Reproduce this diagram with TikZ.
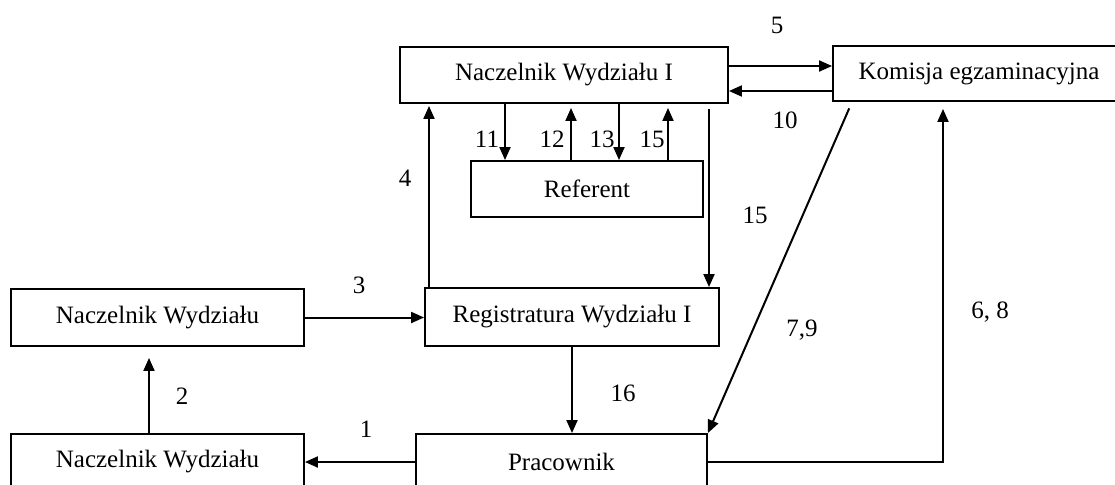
\documentclass[tikz,border=0pt]{standalone}
\usepackage{fontspec}
\setmainfont{Liberation Serif}
\usetikzlibrary{arrows.meta}
\begin{document}
\begin{tikzpicture}[x=1pt,y=-1pt,
  box/.style={draw,line width=1.9pt,minimum height=56pt,inner sep=0pt,
    font=\fontsize{25}{30}\selectfont},
  arr/.style={line width=2pt,-{Triangle[length=13pt,width=11pt]}},
  lbl/.style={inner sep=0pt,font=\fontsize{25}{30}\selectfont}]
\useasboundingbox (0,0) rectangle (1115,484);
\clip (0,0) rectangle (1115,484);

% boxes
\node[box,minimum width=328pt] (nwI) at (564,75) {Naczelnik Wydziału I};
\node[box,minimum width=292pt,minimum height=55pt] (kom) at (979,73.5) {Komisja egzaminacyjna};
\node[box,minimum width=232pt] (ref) at (587,189) {Referent};
\node[box,minimum width=293pt,minimum height=57pt] (nwA) at (157.5,317.5) {Naczelnik Wydziału};
\node[box,minimum width=294pt,minimum height=58pt] (reg) at (572,317) {Registratura Wydziału I};
\node[box,minimum width=293pt] (nwB) at (157.5,462) {Naczelnik Wydziału};
\node[box,minimum width=291pt] (prac) at (561.5,462) {Pracownik};

% connectors
\draw[arr] (nwI.east |- 0,66) -- (kom.west |- 0,66);
\draw[arr] (kom.west |- 0,91) -- (nwI.east |- 0,91);
\draw[arr] (505,0 |- nwI.south) -- (505,0 |- ref.north);
\draw[arr,shorten >=4pt] (571,0 |- ref.north) -- (571,0 |- nwI.south);
\draw[arr] (619,0 |- nwI.south) -- (619,0 |- ref.north);
\draw[arr,shorten >=4pt] (668,0 |- ref.north) -- (668,0 |- nwI.south);
\draw[arr,shorten <=5pt] (709,0 |- nwI.south) -- (709,0 |- reg.north);
\draw[arr,shorten >=2pt] (429,0 |- reg.north) -- (429,0 |- nwI.south);
\draw[arr] (nwA.east) -- (reg.west |- nwA.east);
\draw[arr,shorten >=11pt] (149,0 |- nwB.north) -- (149,0 |- nwA.south);
\draw[arr] (prac.west) -- (nwB.east);
\draw[arr] (reg.south) -- (reg.south |- prac.north);
\draw[arr,shorten <=7pt] (852,0 |- kom.south) -- (prac.north east);
\draw[arr,shorten >=7pt] (prac.east) -| (943,0 |- kom.south);

% step numbers
\node[lbl] (l5) at (777,25) {5};
\node[lbl] (l10) at (785,120) {10};
\node[lbl] (l11) at (487,139) {11};
\node[lbl] (l12) at (552,139) {12};
\node[lbl] (l13) at (602,139) {13};
\node[lbl] (l15a) at (652,139) {15};
\node[lbl] (l4) at (405,178) {4};
\node[lbl] (l15b) at (755,215) {15};
\node[lbl] (l3) at (359,285) {3};
\node[lbl] (l79) at (802,330) {7,9};
\node[lbl] (l68) at (990,312) {6, 8};
\node[lbl] (l2) at (182,396) {2};
\node[lbl] (l16) at (623,393) {16};
\node[lbl] (l1) at (366,429) {1};
\end{tikzpicture}
\end{document}
